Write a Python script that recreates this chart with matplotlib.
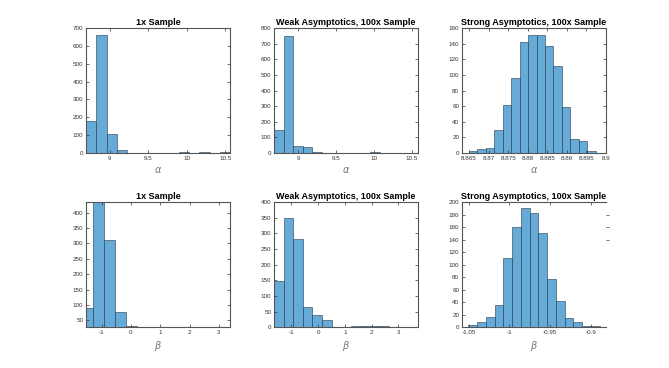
import numpy as np
import matplotlib.pyplot as plt

# -------------------------------
# histogram data
# -------------------------------

titles = ["1x Sample", "Weak Asymptotics, 100x Sample", "Strong Asymptotics, 100x Sample"]

# alpha, 1x sample
a1_start, a1_width = 8.69, 0.134
a1_counts = [180, 660, 105, 18, 0, 2, 0, 0, 0, 4, 1, 4, 0, 4]

# alpha, weak asymptotics
a2_start, a2_width = 8.68, 0.1267
a2_counts = [148, 750, 45, 37, 5, 0, 2, 0, 2, 2, 5, 1, 0, 0, 1]

# alpha, strong asymptotics
a3_start, a3_width = 8.865, 0.00216
a3_counts = [3, 5, 7, 30, 62, 96, 142, 151, 151, 137, 111, 59, 18, 16, 3]

# beta, 1x sample
b1_start, b1_width = -1.655, 0.371
b1_counts = [90, 470, 312, 78, 32, 5, 2, 1, 0, 0, 0, 1, 0]

# beta, weak asymptotics
b2_start, b2_width = -1.65, 0.359
b2_counts = [148, 350, 283, 65, 38, 22, 2, 1, 4, 3, 3, 5, 1, 0, 2]

# beta, strong asymptotics
b3_start, b3_width = -1.0504, 0.01075
b3_counts = [3, 8, 17, 35, 110, 160, 190, 182, 151, 77, 42, 15, 8, 2, 2]

# axis limits and ticks
a1_xlim, a1_ylim = (8.69, 10.56), (0, 700)
a2_xlim, a2_ylim = (8.68, 10.58), (0, 800)
a3_xlim, a3_ylim = (8.8632, 8.899), (0, 160)
b1_xlim, b1_ylim = (-1.53, 3.375), (28, 434)
b2_xlim, b2_ylim = (-1.65, 3.73), (0, 400)
b3_xlim, b3_ylim = (-1.0583, -0.8814), (0, 200)

a12_xticks = [9, 9.5, 10, 10.5]
a3_xticks = [8.865, 8.87, 8.875, 8.88, 8.885, 8.89, 8.895, 8.9]
b12_xticks = [-1, 0, 1, 2, 3]
b3_xticks = [-1.05, -1, -0.95, -0.9]

a1_yticks = [0, 100, 200, 300, 400, 500, 600, 700]
a2_yticks = [0, 100, 200, 300, 400, 500, 600, 700, 800]
a3_yticks = [0, 20, 40, 60, 80, 100, 120, 140, 160]
b1_yticks = [50, 100, 150, 200, 250, 300, 350, 400]
b2_yticks = [0, 50, 100, 150, 200, 250, 300, 350, 400]
b3_yticks = [0, 20, 40, 60, 80, 100, 120, 140, 160, 180, 200]
b3_right_ticks = [140, 160, 180]

# -------------------------------
# figure
# -------------------------------

plt.rcParams['font.family'] = ['Liberation Sans', 'DejaVu Sans']

fig = plt.figure(figsize=(6.69, 3.68), dpi=100)

lefts = [0.1286, 0.4096, 0.6906]
bottoms = [0.584, 0.111]
w, h = 0.215, 0.340

face = '#66aad7'
axcol = '#555555'


def draw(ax, start, width, counts, xlim, ylim, xticks, yticks, title, xlabel):
    edges = start + width * np.arange(len(counts))
    ax.bar(edges, counts, width=width, align='edge', color=face,
           edgecolor=(0.1, 0.17, 0.25, 0.75), linewidth=0.5)
    ax.set_xlim(*xlim)
    ax.set_ylim(*ylim)
    ax.set_xticks(xticks)
    ax.set_xticklabels([f"{t:g}" for t in xticks])
    ax.set_yticks(yticks)
    ax.tick_params(direction='in', length=2, width=0.5, labelsize=4.5,
                   colors='#333333', top=True, right=True, pad=2)
    for s in ax.spines.values():
        s.set_color(axcol)
        s.set_linewidth(0.8)
    ax.set_title(title, fontsize=6.5, fontweight='bold', pad=2)
    ax.set_xlabel(xlabel, fontsize=7, color='#777777', labelpad=3)


rows = [
    [(a1_start, a1_width, a1_counts, a1_xlim, a1_ylim, a12_xticks, a1_yticks),
     (a2_start, a2_width, a2_counts, a2_xlim, a2_ylim, a12_xticks, a2_yticks),
     (a3_start, a3_width, a3_counts, a3_xlim, a3_ylim, a3_xticks, a3_yticks)],
    [(b1_start, b1_width, b1_counts, b1_xlim, b1_ylim, b12_xticks, b1_yticks),
     (b2_start, b2_width, b2_counts, b2_xlim, b2_ylim, b12_xticks, b2_yticks),
     (b3_start, b3_width, b3_counts, b3_xlim, b3_ylim, b3_xticks, b3_yticks)],
]
labels = [r'$\alpha$', r'$\beta$']

for r, row in enumerate(rows):
    for c, args in enumerate(row):
        ax = fig.add_axes([lefts[c], bottoms[r], w, h])
        draw(ax, *args, titles[c], labels[r])
        if r == 1 and c == 2:
            # right box edge is missing here, only a few tick marks remain
            ax.spines['right'].set_visible(False)
            ax.tick_params(right=False)
            sec = ax.secondary_yaxis('right')
            sec.set_yticks(b3_right_ticks)
            sec.set_yticklabels([])
            sec.spines['right'].set_visible(False)
            sec.tick_params(direction='out', length=2, width=0.5, colors='#333333')

fig.savefig("out.png", dpi=100)
